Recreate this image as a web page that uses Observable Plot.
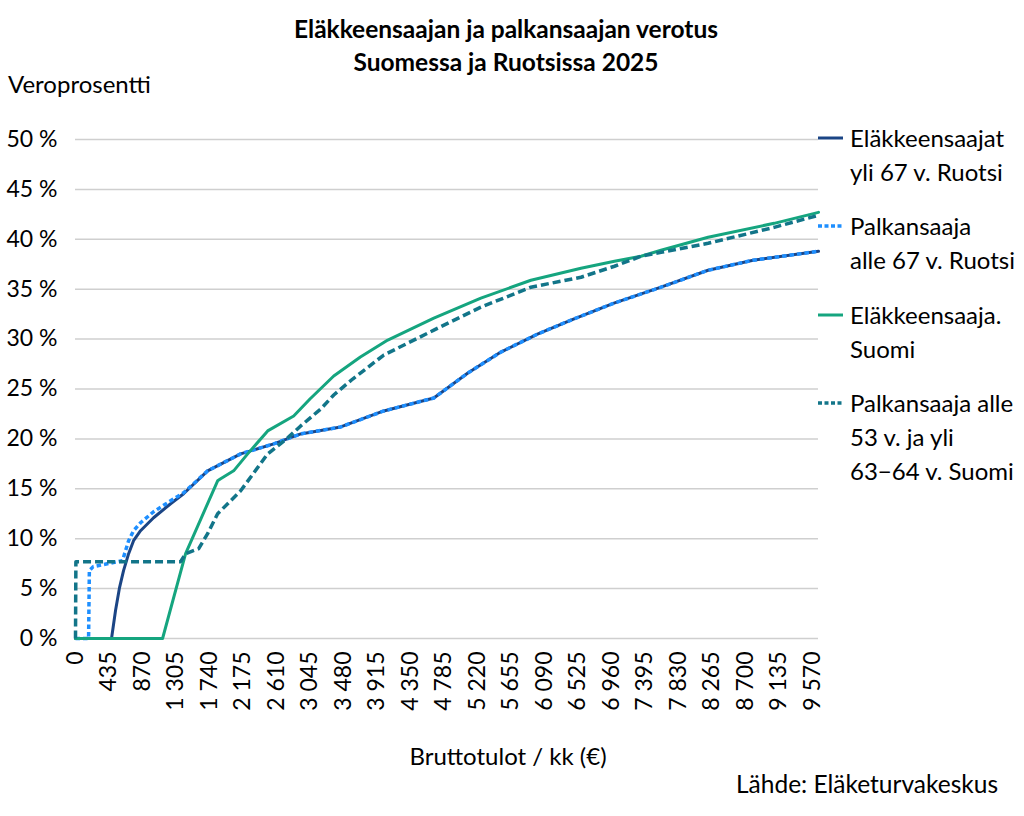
<!DOCTYPE html>
<html>
<head>
<meta charset="utf-8">
<script src="https://cdn.jsdelivr.net/npm/d3@7"></script>
<script src="https://cdn.jsdelivr.net/npm/@observablehq/plot@0.6"></script>
<style>
  html, body { margin: 0; padding: 0; background: #fff; }
  #wrap { position: relative; width: 1024px; height: 816px; font-family: Lato, "Open Sans", sans-serif; color: #000; overflow: hidden; }
  #chart { position: absolute; left: 0; top: 0; }
  .t { position: absolute; white-space: nowrap; }
  #title { left: 0; width: 1012px; top: 12px; text-align: center; font-weight: bold; font-size: 24.5px; line-height: 33px; }
  #ylab { left: 8px; top: 69px; font-size: 24px; }
  #xlab { left: 0; width: 1016px; top: 741px; text-align: center; font-size: 24px; }
  #src { right: 26px; top: 769px; font-size: 24.5px; }
  .leg { position: absolute; left: 850px; font-size: 24px; line-height: 34px; white-space: nowrap; }
  #legsvg { position: absolute; left: 0; top: 0; }
</style>
</head>
<body>
<div id="wrap">
  <div id="chart"></div>
  <div id="title" class="t">Eläkkeensaajan ja palkansaajan verotus<br>Suomessa ja Ruotsissa 2025</div>
  <div id="ylab" class="t">Veroprosentti</div>
  <div id="xlab" class="t">Bruttotulot / kk (€)</div>
  <div id="src" class="t">Lähde: Eläketurvakeskus</div>
</div>
<script>
// ---- data ----
const xTicks = [0, 435, 870, 1305, 1740, 2175, 2610, 3045, 3480, 3915, 4350, 4785, 5220, 5655, 6090, 6525, 6960, 7395, 7830, 8265, 8700, 9135, 9570];
const yTicks = [0, 5, 10, 15, 20, 25, 30, 35, 40, 45, 50];

const seriesNames = [
  "Eläkkeensaajat yli 67 v. Ruotsi",
  "Palkansaaja alle 67 v. Ruotsi",
  "Eläkkeensaaja. Suomi",
  "Palkansaaja alle 53 v. ja yli 63–64 v. Suomi"
];
const legendLines = [
  ["Eläkkeensaajat", "yli 67 v. Ruotsi"],
  ["Palkansaaja", "alle 67 v. Ruotsi"],
  ["Eläkkeensaaja.", "Suomi"],
  ["Palkansaaja alle", "53 v. ja yli", "63−64 v. Suomi"]
];
const colors = ["#1b4585", "#1e8fff", "#15a57f", "#127589"];

// Eläkkeensaajat yli 67 v. Ruotsi
const incomeSePension = [0, 468, 520, 572, 624, 690, 754, 845, 1014, 1235, 1404, 1716, 2145, 2574, 2925, 3445, 4004, 4654, 5096, 5525, 6000, 6435, 6994, 7605, 8216, 8800, 9650];
const taxSePension    = [0, 0, 2.8, 5.1, 6.8, 8.5, 9.8, 10.8, 12.1, 13.5, 14.5, 16.8, 18.5, 19.5, 20.5, 21.2, 22.8, 24.1, 26.6, 28.7, 30.5, 31.9, 33.6, 35.2, 36.9, 37.9, 38.8];

// Palkansaaja alle 67 v. Ruotsi
const incomeSeWage = [0, 170, 180, 230, 610, 690, 754, 845, 1014, 1235, 1404, 1716, 2145, 2574, 2925, 3445, 4004, 4654, 5096, 5525, 6000, 6435, 6994, 7605, 8216, 8800, 9650];
const taxSeWage    = [0, 0, 6.8, 7.2, 7.8, 9.8, 10.8, 11.6, 12.7, 13.8, 14.6, 16.8, 18.5, 19.5, 20.5, 21.2, 22.8, 24.1, 26.6, 28.7, 30.5, 31.9, 33.6, 35.2, 36.9, 37.9, 38.8];

// Eläkkeensaaja, Suomi
const incomeFiPension = [0, 1131, 1430, 1846, 1885, 2054, 2236, 2496, 2834, 3045, 3354, 3700, 4056, 4654, 5265, 5915, 6565, 7000, 7345, 7605, 8216, 9074, 9650];
const taxFiPension    = [0, 0, 8.5, 15.8, 16.0, 16.8, 18.5, 20.8, 22.3, 24.0, 26.3, 28.2, 29.9, 32.1, 34.1, 35.9, 37.1, 37.8, 38.3, 38.9, 40.2, 41.6, 42.7];

// Palkansaaja alle 53 v. ja yli 63–64 v. Suomi
const incomeFiWage = [0, 5, 1365, 1430, 1600, 1716, 1846, 2145, 2496, 2756, 2925, 3185, 3354, 3600, 4004, 4654, 5265, 5915, 6565, 7000, 7345, 7605, 8216, 9074, 9650];
const taxFiWage    = [0, 7.7, 7.7, 8.5, 9.0, 10.5, 12.5, 14.8, 18.5, 20.1, 21.3, 23.0, 24.4, 26.0, 28.4, 30.9, 33.2, 35.2, 36.2, 37.3, 38.3, 38.7, 39.6, 41.2, 42.4];

const dashes = [null, "4.5,3", null, "8,4"];
const widths = [3, 3.5, 3, 3.5];

// ---- build ----
const toRows = (xs, ys, s) => xs.map((x, i) => ({x, y: ys[i], s}));
const series = [
  toRows(incomeSePension, taxSePension, 0),
  toRows(incomeSeWage, taxSeWage, 1),
  toRows(incomeFiPension, taxFiPension, 2),
  toRows(incomeFiWage, taxFiWage, 3)
];

const loc = d3.formatLocale({decimal: ",", thousands: " ", grouping: [3]});
const fmt = loc.format(",d");

const plot = Plot.plot({
  width: 1024,
  height: 816,
  marginLeft: 75,
  marginRight: 206,
  marginTop: 139,
  marginBottom: 178,
  style: {fontFamily: "Lato, 'Open Sans', sans-serif", fontSize: "23px", color: "#000", background: "transparent"},
  x: {domain: [0, 9650], ticks: xTicks, tickFormat: fmt, tickRotate: -90, tickSize: 0, tickPadding: 13, label: null},
  y: {domain: [0, 50], ticks: yTicks, tickFormat: d => d + " %", tickSize: 0, tickPadding: 18, label: null},
  marks: [
    Plot.ruleY(yTicks, {stroke: "#cfcfcf", strokeWidth: 1.5}),
    ...series.map((rows, i) => Plot.line(rows, {
      x: "x", y: "y", stroke: colors[i], strokeWidth: widths[i],
      strokeDasharray: dashes[i] || undefined, strokeLinejoin: "round", strokeLinecap: dashes[i] ? "butt" : "round"
    }))
  ]
});
document.getElementById("chart").appendChild(plot);

// ---- legend ----
const wrap = document.getElementById("wrap");
const legTops = [138, 226, 315, 403];
const NS = "http://www.w3.org/2000/svg";
const lsvg = document.createElementNS(NS, "svg");
lsvg.setAttribute("id", "legsvg");
lsvg.setAttribute("width", 1024);
lsvg.setAttribute("height", 816);
lsvg.style.pointerEvents = "none";
legendLines.forEach((lines, i) => {
  const ln = document.createElementNS(NS, "line");
  ln.setAttribute("x1", 818); ln.setAttribute("x2", 843);
  ln.setAttribute("y1", legTops[i]); ln.setAttribute("y2", legTops[i]);
  ln.setAttribute("stroke", colors[i]);
  ln.setAttribute("stroke-width", widths[i]);
  if (dashes[i]) ln.setAttribute("stroke-dasharray", "4,2.5");
  lsvg.appendChild(ln);
  const div = document.createElement("div");
  div.className = "leg";
  div.style.top = (legTops[i] - 17) + "px";
  div.innerHTML = lines.join("<br>");
  wrap.appendChild(div);
});
wrap.appendChild(lsvg);
</script>
</body>
</html>
